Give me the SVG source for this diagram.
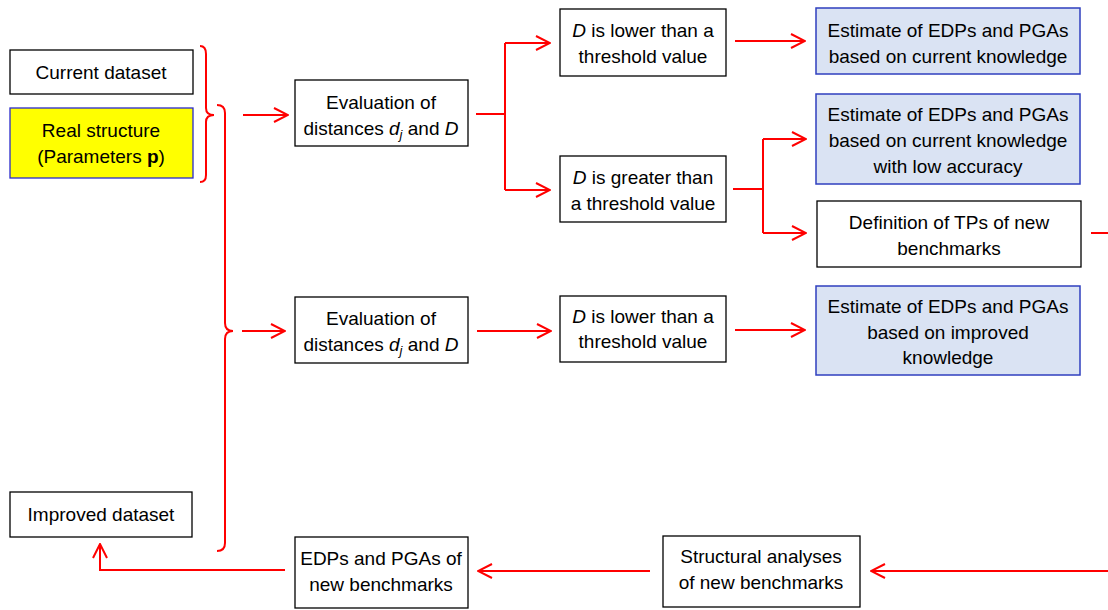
<svg xmlns="http://www.w3.org/2000/svg" width="1108" height="610" viewBox="0 0 1108 610">
<defs>
<style>
.box{fill:#fff;stroke:#000;stroke-width:1.3}
.yel{fill:#ffff00;stroke:#2a2acc;stroke-width:1.3}
.blu{fill:#dae3f3;stroke:#2f3fbf;stroke-width:1.5}
text{font-family:"Liberation Sans",Arial,sans-serif;font-size:19px;fill:#000;text-anchor:middle}
.c{fill:none;stroke:#ff0000;stroke-width:2}
</style>
<marker id="ah" viewBox="0 0 16 16" refX="15" refY="8" markerWidth="16" markerHeight="16" markerUnits="userSpaceOnUse" orient="auto">
<path d="M1,1 L15,8 L1,15" fill="none" stroke="#ff0000" stroke-width="2"/>
</marker>
</defs>
<rect width="1108" height="610" fill="#fff"/>
<g id="connectors">
<path class="c" d="M200,46 Q206,46 206,54 L206,108 Q206,115 214,115 Q206,115 206,122 L206,175 Q206,182 200,182"/>
<path class="c" d="M217,105 Q225,105 225,113 L225,323 Q225,331 233,331 Q225,331 225,339 L225,543 Q225,551 217,551"/>
<path class="c" d="M243,115 L288,115" marker-end="url(#ah)"/>
<path class="c" d="M242,331 L285,331" marker-end="url(#ah)"/>
<path class="c" d="M476,114 L505,114"/>
<path class="c" d="M505,43 L505,190"/>
<path class="c" d="M505,43 L550,43" marker-end="url(#ah)"/>
<path class="c" d="M505,190 L550,190" marker-end="url(#ah)"/>
<path class="c" d="M735,41 L805,41" marker-end="url(#ah)"/>
<path class="c" d="M733,189 L763,189"/>
<path class="c" d="M763,139 L763,233"/>
<path class="c" d="M763,139 L806,139" marker-end="url(#ah)"/>
<path class="c" d="M763,233 L806,233" marker-end="url(#ah)"/>
<path class="c" d="M1091,233 L1108,233"/>
<path class="c" d="M477,331 L551,331" marker-end="url(#ah)"/>
<path class="c" d="M735,330 L805,330" marker-end="url(#ah)"/>
<path class="c" d="M1108,571 L871,571" marker-end="url(#ah)"/>
<path class="c" d="M650,571 L478,571" marker-end="url(#ah)"/>
<path class="c" d="M285,570 L100,570 L100,544" marker-end="url(#ah)"/>
</g>
<g id="current-dataset"><rect class="box" x="10" y="50" width="183" height="44"/><text x="101" y="79">Current dataset</text></g>
<g id="real-structure"><rect class="yel" x="10" y="108" width="183" height="70"/><text x="101" y="137">Real structure</text><text x="101" y="163">(Parameters <tspan font-weight="bold">p</tspan>)</text></g>
<g id="evaluation-1"><rect class="box" x="295" y="80" width="173" height="66"/><text x="381" y="109">Evaluation of</text><text x="381" y="135">distances <tspan font-style="italic">d</tspan><tspan font-style="italic" font-size="13" dy="4">j</tspan><tspan dy="-4"> and </tspan><tspan font-style="italic">D</tspan></text></g>
<g id="d-lower-1"><rect class="box" x="560" y="9" width="166" height="67"/><text x="643" y="37"><tspan font-style="italic">D</tspan> is lower than a</text><text x="643" y="63">threshold value</text></g>
<g id="estimate-1"><rect class="blu" x="816" y="8" width="264" height="66"/><text x="948" y="37">Estimate of EDPs and PGAs</text><text x="948" y="63">based on current knowledge</text></g>
<g id="estimate-2"><rect class="blu" x="816" y="94" width="264" height="90"/><text x="948" y="121">Estimate of EDPs and PGAs</text><text x="948" y="147">based on current knowledge</text><text x="948" y="173">with low accuracy</text></g>
<g id="d-greater"><rect class="box" x="560" y="156" width="166" height="66"/><text x="643" y="184"><tspan font-style="italic">D</tspan> is greater than</text><text x="643" y="210">a threshold value</text></g>
<g id="definition"><rect class="box" x="817" y="201" width="264" height="66"/><text x="949" y="229">Definition of TPs of new</text><text x="949" y="255">benchmarks</text></g>
<g id="evaluation-2"><rect class="box" x="295" y="297" width="173" height="66"/><text x="381" y="325">Evaluation of</text><text x="381" y="351">distances <tspan font-style="italic">d</tspan><tspan font-style="italic" font-size="13" dy="4">j</tspan><tspan dy="-4"> and </tspan><tspan font-style="italic">D</tspan></text></g>
<g id="d-lower-2"><rect class="box" x="560" y="296" width="166" height="66"/><text x="643" y="323"><tspan font-style="italic">D</tspan> is lower than a</text><text x="643" y="348">threshold value</text></g>
<g id="estimate-3"><rect class="blu" x="816" y="286" width="264" height="89"/><text x="948" y="313">Estimate of EDPs and PGAs</text><text x="948" y="339">based on improved</text><text x="948" y="364">knowledge</text></g>
<g id="improved-dataset"><rect class="box" x="10" y="492" width="182" height="45"/><text x="101" y="521">Improved dataset</text></g>
<g id="edps-pgas-new"><rect class="box" x="295" y="537" width="173" height="71"/><text x="381" y="565">EDPs and PGAs of</text><text x="381" y="591">new benchmarks</text></g>
<g id="structural-analyses"><rect class="box" x="663" y="536" width="197" height="71"/><text x="761" y="563">Structural analyses</text><text x="761" y="589">of new benchmarks</text></g>
</svg>
